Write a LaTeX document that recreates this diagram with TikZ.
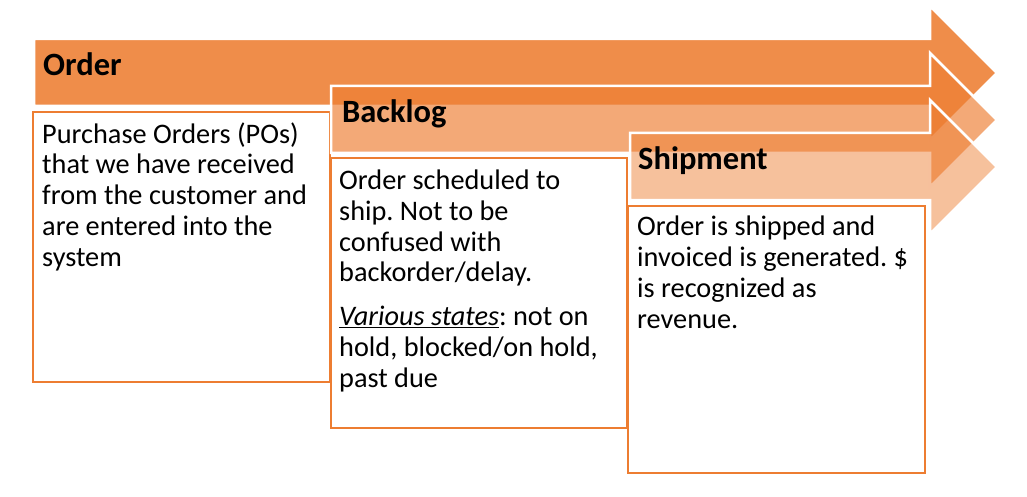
\documentclass[tikz,border=0pt]{standalone}
\usepackage{fontspec}
\setmainfont{Carlito}
\usetikzlibrary{positioning}
\definecolor{stageO}{RGB}{237,125,49}
\frenchspacing

\begin{document}
\begin{tikzpicture}[x=1pt, y=-1pt,
  arw/.style={fill=stageO, draw=white, line width=2.5pt, line join=miter},
  ttl/.style={anchor=base west, inner sep=0pt, font=\fontsize{32.5}{38}\selectfont\bfseries},
  txt/.style={anchor=base west, inner sep=0pt, align=left,
              font=\fontsize{28.3}{30.7}\selectfont},
  descbox/.style={draw=stageO, fill=white, line width=2.7pt}]
  \useasboundingbox (0,0) rectangle (1027,497);
  % stage 1
  \filldraw[arw, fill opacity=0.88] (34,39) -- (930,39) -- (930,6) -- (997,73)
    -- (930,140) -- (930,106) -- (34,106) -- cycle;
  \node[ttl] (order) at (43,76) {Order};
  \draw[descbox] (33,112) rectangle (330,382);
  % multi-line text sits on its last baseline
  \node[txt] (orderdesc) at (42,266)
    {Purchase Orders (POs)\\ that we have received\\ from the customer and\\
     are entered into the\\ system};
  % stage 2
  \filldraw[arw, fill opacity=0.66] (331,86) -- (930,86) -- (930,53) -- (997,120)
    -- (930,187) -- (930,153) -- (331,153) -- cycle;
  \node[ttl] (backlog) at (342,123) {Backlog};
  \draw[descbox] (331,158) rectangle (627,428);
  \node[txt] (backlogdesc) at (339,387)
    {Order scheduled to\\ ship. Not to be\\ confused with\\ backorder/delay.\\[13pt]
     \underline{\textit{Various states}}: not on\\ hold, blocked/on hold,\\ past due};
  % stage 3
  \filldraw[arw, fill opacity=0.48] (630,133) -- (930,133) -- (930,100) -- (997,167)
    -- (930,234) -- (930,200) -- (630,200) -- cycle;
  \node[ttl] (shipment) at (638,170) {Shipment};
  \draw[descbox] (628,206) rectangle (925,473);
  \node[txt] (shipmentdesc) at (637,328)
    {Order is shipped and\\ invoiced is generated. \symbol{"24}\\ is recognized as\\ revenue.};
\end{tikzpicture}
\end{document}
